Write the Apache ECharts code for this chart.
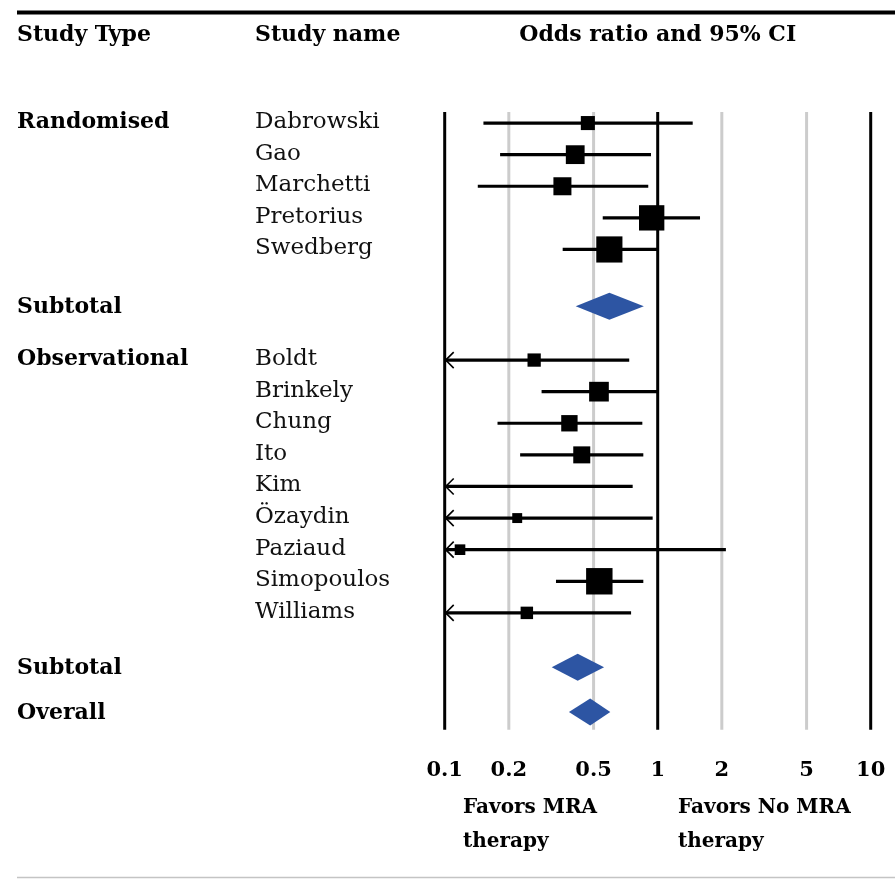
<!DOCTYPE html>
<html><head><meta charset="utf-8">
<script src="https://cdn.jsdelivr.net/npm/echarts@6/dist/echarts.min.js"></script>
<style>html,body{margin:0;padding:0;background:#fff}#c{width:895px;height:881px}</style>
</head><body><div id="c"></div>
<script>
// ---- data ----
const studyNames = ['Dabrowski','Gao','Marchetti','Pretorius','Swedberg','Boldt','Brinkely','Chung','Ito','Kim','Özaydin','Paziaud','Simopoulos','Williams'];
const studyGroups = ['Randomised','Randomised','Randomised','Randomised','Randomised','Observational','Observational','Observational','Observational','Observational','Observational','Observational','Observational','Observational'];
const oddsRatio = [0.47, 0.41, 0.357, 0.937, 0.593, 0.263, 0.53, 0.385, 0.44, 0.06, 0.219, 0.118, 0.532, 0.243];
const ciLower   = [0.152, 0.182, 0.143, 0.552, 0.358, 0.05, 0.285, 0.177, 0.226, 0.02, 0.05, 0.007, 0.333, 0.05];
const ciUpper   = [1.46, 0.93, 0.903, 1.58, 1.0, 0.735, 1.0, 0.847, 0.856, 0.763, 0.947, 2.09, 0.856, 0.75];
const weights   = [2.8, 5.0, 4.6, 9.1, 9.7, 2.5, 5.5, 3.8, 4.1, 1.5, 1.4, 1.6, 9.9, 2.2];
const summaryNames = ['Subtotal','Subtotal','Overall'];
const summaryOR    = [0.593, 0.421, 0.482];
const summaryLower = [0.412, 0.318, 0.383];
const summaryUpper = [0.861, 0.560, 0.599];
const tickValues = [0.1, 0.2, 0.5, 1, 2, 5, 10];
const majorTicks = [0.1, 1, 10];
const headers = ['Study Type', 'Study name', 'Odds ratio and 95% CI'];
const favorTexts = ['Favors MRA\ntherapy', 'Favors No MRA\ntherapy'];

// ---- layout ----
const X_MIN = 0.1, X_MAX = 10, Y_MIN = -0.35, Y_MAX = 19.2;
const FONT = '"DejaVu Serif", "Liberation Serif", serif';
const BOLD = 'bold 22px ' + FONT;
const groupStartRow = {'Randomised': 0, 'Observational': 7.5};
const summaryRows = [5.8, 17.22, 18.64];
const groupCounter = {};
const studyRows = studyGroups.map(g => {
  const k = groupCounter[g] || 0; groupCounter[g] = k + 1;
  return groupStartRow[g] + k;
});
const firstOfGroup = studyGroups.map((g, i) => i === 0 || studyGroups[i - 1] !== g);

const studyData = studyNames.map((n, i) => [oddsRatio[i], ciLower[i], ciUpper[i], studyRows[i], weights[i]]);
const summaryData = summaryNames.map((n, i) => [summaryOR[i], summaryLower[i], summaryUpper[i], summaryRows[i]]);

const chart = echarts.init(document.getElementById('c'), null, {renderer: 'canvas'});
chart.setOption({
  animation: false,
  backgroundColor: '#fff',
  grid: {left: 444.7, right: 24.3, top: 112, bottom: 151.2},
  xAxis: {type: 'log', logBase: 10, min: X_MIN, max: X_MAX, show: false},
  yAxis: {type: 'value', inverse: true, min: Y_MIN, max: Y_MAX, show: false},
  graphic: [
    {type: 'line', shape: {x1: 17, y1: 12.5, x2: 895, y2: 12.5}, style: {stroke: '#000', lineWidth: 4}},
    {type: 'line', shape: {x1: 17, y1: 877.5, x2: 895, y2: 877.5}, style: {stroke: '#c4c4c4', lineWidth: 1.5}},
    {type: 'text', x: 17, y: 35, style: {text: headers[0], font: BOLD, fill: '#000', textAlign: 'left', textVerticalAlign: 'middle'}},
    {type: 'text', x: 255, y: 35, style: {text: headers[1], font: BOLD, fill: '#000', textAlign: 'left', textVerticalAlign: 'middle'}},
    {type: 'text', x: 657.7, y: 35, style: {text: headers[2], font: BOLD, fill: '#000', textAlign: 'center', textVerticalAlign: 'middle'}},
    {type: 'text', x: 463, y: 825, style: {text: favorTexts[0], font: 'bold 20px ' + FONT, fill: '#000', textAlign: 'left', textVerticalAlign: 'middle', lineHeight: 34}},
    {type: 'text', x: 678, y: 825, style: {text: favorTexts[1], font: 'bold 20px ' + FONT, fill: '#000', textAlign: 'left', textVerticalAlign: 'middle', lineHeight: 34}}
  ],
  series: [
    {
      type: 'custom', name: 'grid', z: 1,
      data: tickValues.map(v => [v]),
      renderItem(params, api) {
        const v = api.value(0);
        const p1 = api.coord([v, Y_MIN]);
        const p2 = api.coord([v, Y_MAX]);
        const major = majorTicks.indexOf(v) >= 0;
        return {type: 'group', children: [
          {type: 'line', shape: {x1: p1[0], y1: p1[1], x2: p2[0], y2: p2[1]},
           style: {stroke: major ? '#000' : '#cccccc', lineWidth: 3}},
          {type: 'text', x: p2[0], y: p2[1] + 41,
           style: {text: String(tickValues[params.dataIndex]), font: 'bold 21px ' + FONT, fill: '#000', textAlign: 'center', textVerticalAlign: 'middle'}}
        ]};
      }
    },
    {
      type: 'custom', name: 'studies', z: 3,
      data: studyData,
      renderItem(params, api) {
        const i = params.dataIndex;
        const or = api.value(0), lo = api.value(1), hi = api.value(2), row = api.value(3), w = api.value(4);
        const y = api.coord([1, row])[1];
        const xl = api.coord([Math.max(lo, X_MIN), row])[0];
        const xh = api.coord([Math.min(hi, X_MAX), row])[0];
        const ch = [{type: 'line', shape: {x1: xl, y1: y, x2: xh, y2: y}, style: {stroke: '#000', lineWidth: 3.2}}];
        if (lo < X_MIN) {
          ch.push({type: 'polyline', shape: {points: [[xl + 9, y - 8], [xl + 1, y], [xl + 9, y + 8]]},
                   style: {stroke: '#000', lineWidth: 1.6, fill: null}});
        }
        if (or >= X_MIN) {
          const s = Math.sqrt(w) * 8.4;
          const xc = api.coord([or, row])[0];
          ch.push({type: 'rect', shape: {x: xc - s / 2, y: y - s / 2, width: s, height: s}, style: {fill: '#000'}});
        }
        ch.push({type: 'text', x: 255, y: y - 1,
                 style: {text: studyNames[i], font: '23px ' + FONT, fill: '#111', textAlign: 'left', textVerticalAlign: 'middle'}});
        if (firstOfGroup[i]) {
          ch.push({type: 'text', x: 17, y: y - 1,
                   style: {text: studyGroups[i], font: BOLD, fill: '#000', textAlign: 'left', textVerticalAlign: 'middle'}});
        }
        return {type: 'group', children: ch};
      }
    },
    {
      type: 'custom', name: 'summaries', z: 3,
      data: summaryData,
      renderItem(params, api) {
        const i = params.dataIndex;
        const or = api.value(0), lo = api.value(1), hi = api.value(2), row = api.value(3);
        const y = api.coord([1, row])[1];
        const xl = api.coord([lo, row])[0], xh = api.coord([hi, row])[0], xc = api.coord([or, row])[0];
        const h = 13.5;
        return {type: 'group', children: [
          {type: 'polygon', shape: {points: [[xl, y], [xc, y - h], [xh, y], [xc, y + h]]}, style: {fill: '#2d55a3'}},
          {type: 'text', x: 17, y: y + 1,
           style: {text: summaryNames[i], font: BOLD, fill: '#000', textAlign: 'left', textVerticalAlign: 'middle'}}
        ]};
      }
    }
  ]
});
</script></body></html>
